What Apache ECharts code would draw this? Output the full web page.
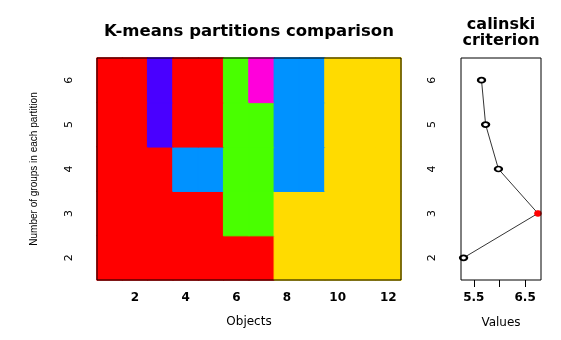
<!DOCTYPE html>
<html>
<head>
<meta charset="utf-8">
<script src="https://cdn.jsdelivr.net/npm/echarts@6/dist/echarts.min.js"></script>
<style>
  html, body { margin: 0; padding: 0; background: #fff; }
  #chart { width: 561px; height: 340px; }
</style>
</head>
<body>
<div id="chart"></div>
<script>
// objects on the x axis, partitions (number of groups) on the y axis
const objects = ['1', '2', '3', '4', '5', '6', '7', '8', '9', '10', '11', '12']
const groups = ['2', '3', '4', '5', '6']

// cluster id of every object, one array per partition
const part2 = [1, 1, 1, 1, 1, 1, 1, 2, 2, 2, 2, 2]
const part3 = [1, 1, 1, 1, 1, 3, 3, 2, 2, 2, 2, 2]
const part4 = [1, 1, 1, 4, 4, 3, 3, 4, 4, 2, 2, 2]
const part5 = [1, 1, 5, 1, 1, 3, 3, 4, 4, 2, 2, 2]
const part6 = [1, 1, 5, 1, 1, 3, 6, 4, 4, 2, 2, 2]

// cluster colours (R rainbow)
const clusterColors = ['#FF0000', '#FFDB00', '#49FF00', '#0092FF', '#4900FF', '#FF00DB']

// calinski criterion per partition
const calinski = [5.30, 6.75, 5.98, 5.73, 5.65]
const valueTicks = [5.5, 6.0, 6.5]
const valueLabels = [5.5, 6.5]

const partitions = [part2, part3, part4, part5, part6]
const cells = []
partitions.forEach((p, yi) => {
  p.forEach((c, xi) => {
    const col = clusterColors[c - 1]
    // border in the same colour hides the seams between cells
    cells.push({ value: [xi, yi, c], itemStyle: { color: col, borderColor: col, borderWidth: 1 } })
  })
})

const best = calinski.indexOf(Math.max(...calinski))
const linePoints = calinski.map((v, i) => {
  const item = { value: [v, i] }
  if (i === best) {
    item.symbol = 'circle'
    item.symbolSize = [7, 6]
    item.itemStyle = { color: '#FF0000', borderColor: '#FF0000' }
  }
  return item
})

const evenIdx = (idx) => idx % 2 === 1
const tickFont = { fontFamily: 'DejaVu Sans', fontSize: 11, color: '#000' }
const boldFont = { fontFamily: 'DejaVu Sans', fontSize: 12, fontWeight: 'bold', color: '#000' }

const chart = echarts.init(document.getElementById('chart'), null, { renderer: 'canvas' })
chart.setOption({
  animation: false,
  backgroundColor: '#fff',
  title: [
    {
      text: 'K-means partitions comparison',
      left: 249,
      top: 23,
      padding: 0,
      textAlign: 'center',
      textStyle: { fontFamily: 'DejaVu Sans', fontSize: 16.5, fontWeight: 'bold', color: '#000' }
    },
    {
      text: 'calinski\ncriterion',
      left: 501,
      top: 17,
      padding: 0,
      textAlign: 'center',
      textStyle: { fontFamily: 'DejaVu Sans', fontSize: 16, fontWeight: 'bold', color: '#000', lineHeight: 16 }
    }
  ],
  grid: [
    { left: 97, top: 58, width: 304, height: 222, show: true, z: 5, backgroundColor: 'transparent', borderColor: '#000', borderWidth: 1 },
    { left: 461, top: 58, width: 80, height: 222, show: true, z: 5, backgroundColor: 'transparent', borderColor: '#000', borderWidth: 1 }
  ],
  xAxis: [
    {
      gridIndex: 0,
      type: 'category',
      data: objects,
      boundaryGap: true,
      name: 'Objects',
      nameLocation: 'middle',
      nameGap: 36,
      nameTextStyle: { fontFamily: 'DejaVu Sans', fontSize: 12, color: '#000' },
      axisLine: { show: false },
      axisTick: { alignWithLabel: true, interval: evenIdx, length: 7, lineStyle: { color: '#000' } },
      axisLabel: Object.assign({ interval: evenIdx, margin: 12 }, boldFont),
      splitLine: { show: false }
    },
    {
      gridIndex: 1,
      type: 'value',
      min: 5.25,
      max: 6.81,
      name: 'Values',
      nameLocation: 'middle',
      nameGap: 37,
      nameTextStyle: { fontFamily: 'DejaVu Sans', fontSize: 12, color: '#000' },
      axisLine: { show: false },
      axisTick: { show: true, customValues: valueTicks, length: 7, lineStyle: { color: '#000' } },
      axisLabel: Object.assign({ customValues: valueLabels, margin: 12, formatter: (v) => v.toFixed(1) }, boldFont),
      splitLine: { show: false }
    }
  ],
  yAxis: [
    {
      gridIndex: 0,
      type: 'category',
      data: groups,
      boundaryGap: true,
      name: 'Number of groups in each partition',
      nameLocation: 'middle',
      nameGap: 58,
      nameRotate: 90,
      nameTextStyle: { fontFamily: 'Liberation Sans', fontSize: 10, color: '#000' },
      axisLine: { show: false },
      axisTick: { alignWithLabel: true, length: 10, lineStyle: { color: '#000' } },
      axisLabel: Object.assign({ rotate: 90, margin: 22 }, tickFont),
      splitLine: { show: false }
    },
    {
      gridIndex: 1,
      type: 'category',
      data: groups,
      boundaryGap: true,
      axisLine: { show: false },
      axisTick: { alignWithLabel: true, length: 11, lineStyle: { color: '#000' } },
      axisLabel: Object.assign({ rotate: 90, margin: 23 }, tickFont),
      splitLine: { show: false }
    }
  ],
  series: [
    {
      type: 'heatmap',
      xAxisIndex: 0,
      yAxisIndex: 0,
      data: cells
    },
    {
      type: 'line',
      xAxisIndex: 1,
      yAxisIndex: 1,
      data: linePoints,
      symbol: 'emptyCircle',
      symbolSize: [7, 5],
      itemStyle: { color: '#000', borderColor: '#000', borderWidth: 0.6 },
      lineStyle: { color: '#000', width: 0.8 }
    }
  ]
})
</script>
</body>
</html>
